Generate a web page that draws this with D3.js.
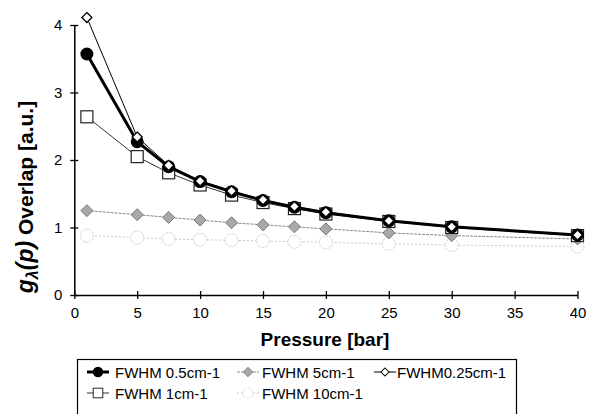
<!DOCTYPE html>
<html>
<head>
    <meta charset="utf-8">
    <script src="https://d3js.org/d3.v7.min.js"></script>
    <style>
        body { margin: 0; background: white; }
        text { font-family: "Liberation Sans", Arial, sans-serif; }
    </style>
</head>
<body>
    <svg id="svg"></svg>
    <script>
        var pressure = [1, 5, 7.5, 10, 12.5, 15, 17.5, 20, 25, 30, 40]
        var fwhm05 = [3.57, 2.27, 1.90, 1.68, 1.53, 1.40, 1.30, 1.22, 1.10, 1.01, 0.89]
        var fwhm5 = [1.25, 1.19, 1.15, 1.11, 1.07, 1.04, 1.01, 0.98, 0.92, 0.88, 0.83]
        var fwhm025 = [4.11, 2.34, 1.92, 1.69, 1.54, 1.41, 1.31, 1.23, 1.10, 1.01, 0.89]
        var fwhm1 = [2.64, 2.05, 1.81, 1.63, 1.48, 1.37, 1.28, 1.20, 1.09, 1.00, 0.88]
        var fwhm10 = [0.88, 0.85, 0.83, 0.82, 0.81, 0.80, 0.79, 0.78, 0.76, 0.74, 0.72]
        var xTicks = [0, 5, 10, 15, 20, 25, 30, 35, 40]
        var yTicks = [0, 1, 2, 3, 4]

        var width = 590, height = 414

        var svg = d3.select("svg")
            .attr("width", width)
            .attr("height", height)

        var x = d3.scaleLinear().domain([0, 40]).range([74.3, 577.5])
        var y = d3.scaleLinear().domain([0, 4]).range([295, 25])

        // series, drawn from lightest to darkest
        var series = [
            { name: "FWHM 10cm-1", values: fwhm10, stroke: "#c8c8c8", width: 1, dash: "2,2", marker: "circle10" },
            { name: "FWHM 5cm-1", values: fwhm5, stroke: "#8a8a8a", width: 1, dash: "3,1", marker: "diamond5" },
            { name: "FWHM 1cm-1", values: fwhm1, stroke: "#333", width: 1, dash: null, marker: "square" },
            { name: "FWHM 0.5cm-1", values: fwhm05, stroke: "#000", width: 3, dash: null, marker: "dot" },
            { name: "FWHM0.25cm-1", values: fwhm025, stroke: "#000", width: 1, dash: null, marker: "diamond" }
        ]

        function drawMarker(g, type) {
            if (type == "dot") {
                g.append("circle").attr("r", 6.5).attr("fill", "#000")
            } else if (type == "square") {
                g.append("rect").attr("x", -6).attr("y", -6).attr("width", 12).attr("height", 12)
                    .attr("fill", "white").attr("stroke", "#222").attr("stroke-width", 1.2)
            } else if (type == "diamond") {
                g.append("path").attr("d", "M0,-5L5,0L0,5L-5,0Z")
                    .attr("fill", "white").attr("stroke", "#000").attr("stroke-width", 1.3)
            } else if (type == "diamond5") {
                g.append("path").attr("d", "M0,-6L6,0L0,6L-6,0Z")
                    .attr("fill", "#a8a8a8").attr("stroke", "#777").attr("stroke-width", 1)
            } else if (type == "circle10") {
                g.append("circle").attr("r", 6.5)
                    .attr("fill", "white").attr("stroke", "#cfcfcf").attr("stroke-width", 1)
                    .attr("stroke-dasharray", "2,1")
            }
        }

        var line = d3.line()
            .x(function (d) { return x(d[0]) })
            .y(function (d) { return y(d[1]) })

        series.forEach(function (s) {
            var pts = pressure.map(function (p, i) { return [p, s.values[i]] })
            svg.append("path")
                .attr("d", line(pts))
                .attr("fill", "none")
                .attr("stroke", s.stroke)
                .attr("stroke-width", s.width)
                .attr("stroke-dasharray", s.dash)
            pts.forEach(function (d) {
                var g = svg.append("g").attr("transform", "translate(" + x(d[0]) + "," + y(d[1]) + ")")
                drawMarker(g, s.marker)
            })
        })

        // axes
        var xAxis = svg.append("g")
            .attr("transform", "translate(0," + y(0) + ")")
            .call(d3.axisBottom(x).tickValues(xTicks).tickSize(4).tickSizeOuter(0).tickPadding(8))
        xAxis.select(".domain").attr("stroke-width", 1.5)
        xAxis.selectAll(".tick line").attr("y1", -4).attr("stroke-width", 1.3)
        xAxis.selectAll("text").attr("font-size", 15).attr("fill", "#000")

        var yAxis = svg.append("g")
            .attr("transform", "translate(" + x(0) + ",0)")
            .call(d3.axisLeft(y).tickValues(yTicks).tickFormat(d3.format("d")).tickSize(4).tickSizeOuter(0).tickPadding(8))
        yAxis.select(".domain").attr("stroke-width", 1.5)
        yAxis.selectAll(".tick line").attr("x1", 4).attr("x2", -4).attr("stroke-width", 1.3)
        yAxis.selectAll("text").attr("font-size", 15).attr("fill", "#000")

        // axis titles
        svg.append("text")
            .attr("x", 325)
            .attr("y", 346)
            .attr("text-anchor", "middle")
            .attr("font-size", 19)
            .attr("font-weight", "bold")
            .text("Pressure [bar]")

        var yt = svg.append("text")
            .attr("transform", "translate(33,197) rotate(-90)")
            .attr("text-anchor", "middle")
            .attr("font-size", 21)
            .attr("font-weight", "bold")
        yt.append("tspan").attr("font-style", "italic").attr("font-size", 23).text("g")
        yt.append("tspan").attr("font-style", "italic").attr("font-size", 16).attr("dy", 5).text("λ")
        yt.append("tspan").attr("font-style", "italic").attr("font-size", 23).attr("dy", -5).text("(p)")
        yt.append("tspan").text(" Overlap [a.u.]")

        // legend
        var legend = svg.append("g")
        legend.append("rect")
            .attr("x", 77.5).attr("y", 359.5).attr("width", 439).attr("height", 70)
            .attr("fill", "white").attr("stroke", "#000").attr("stroke-width", 1.2)

        var legendItems = [
            { s: series[3], cx: 98, cy: 372, tx: 115 },
            { s: series[1], cx: 248, cy: 372, tx: 262 },
            { s: series[4], cx: 385, cy: 372, tx: 397 },
            { s: series[2], cx: 98, cy: 393, tx: 115 },
            { s: series[0], cx: 248, cy: 393, tx: 262 }
        ]
        legendItems.forEach(function (it) {
            legend.append("line")
                .attr("x1", it.cx - 11).attr("x2", it.cx + 11)
                .attr("y1", it.cy).attr("y2", it.cy)
                .attr("stroke", it.s.stroke)
                .attr("stroke-width", it.s.width)
                .attr("stroke-dasharray", it.s.dash)
            var g = legend.append("g").attr("transform", "translate(" + it.cx + "," + it.cy + ") scale(0.8)")
            drawMarker(g, it.s.marker)
            legend.append("text")
                .attr("x", it.tx).attr("y", it.cy + 5.5)
                .attr("font-size", 15)
                .text(it.s.name)
        })
    </script>
</body>
</html>
